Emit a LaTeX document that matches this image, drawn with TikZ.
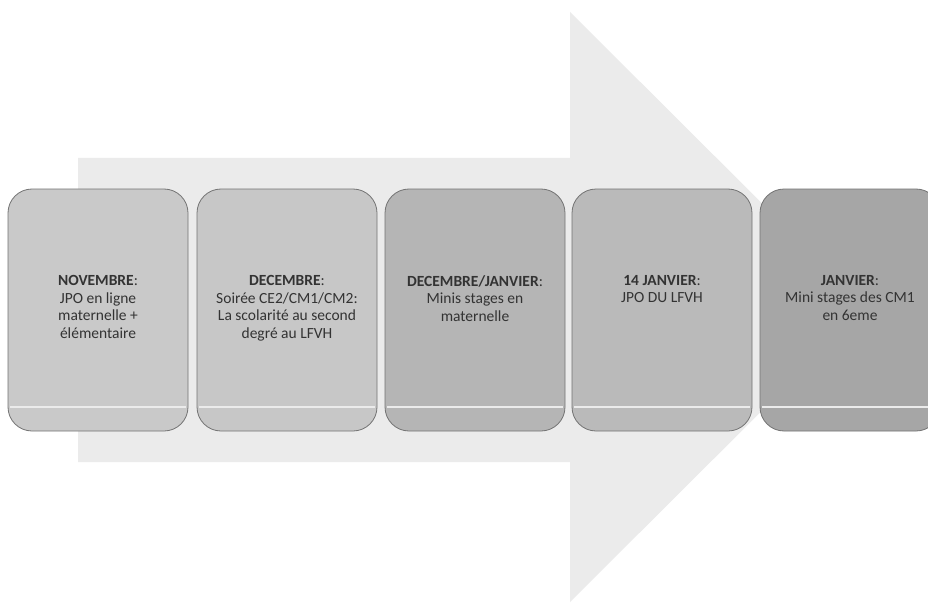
\documentclass[tikz,border=0pt]{standalone}
\usepackage{fontspec}
\setmainfont{Carlito}
\begin{document}
\begin{tikzpicture}[x=1pt,y=-1pt,
  stagebox/.style={draw=black!55, line width=0.8pt, rounded corners=24pt},
  stagetext/.style={anchor=north, align=center, font=\fontsize{15.5}{17.7}\selectfont, text=black!80, inner sep=0pt},
  bandline/.style={draw=white!92!black, line width=1.2pt}]
\useasboundingbox (0,0) rectangle (928,604);
\fill[white] (0,0) rectangle (928,604);
% big arrow
\fill[black!8] (78,158) -- (570,158) -- (570,12) -- (866,307) -- (570,602) -- (570,462) -- (78,462) -- cycle;
% boxes
\newcommand{\stagebx}[4]{%
  \fill[#2] (#1,189) [rounded corners=24pt] rectangle ++(180,242);
  \draw[bandline] (#1+2,407) -- (#1+178,407);
  \draw[stagebox] (#1,189) rectangle ++(180,242);
  \node[stagetext] (#3) at (#1+90,275) {#4};
}
\stagebx{8}{black!21}{b1}{\textbf{NOVEMBRE}:\\JPO en ligne\\maternelle +\\élémentaire}
\stagebx{197}{black!22}{b2}{\textbf{DECEMBRE}:\\Soirée CE2/CM1/CM2:\\La scolarité au second\\degré au LFVH}
\stagebx{385}{black!29}{b3}{\textbf{DECEMBRE/JANVIER}:\\Minis stages en\\maternelle}
\stagebx{572}{black!27}{b4}{\textbf{14 JANVIER}:\\JPO DU LFVH}
\stagebx{760}{black!35}{b5}{\textbf{JANVIER}:\\Mini stages des CM1\\en 6eme}
\end{tikzpicture}
\end{document}
